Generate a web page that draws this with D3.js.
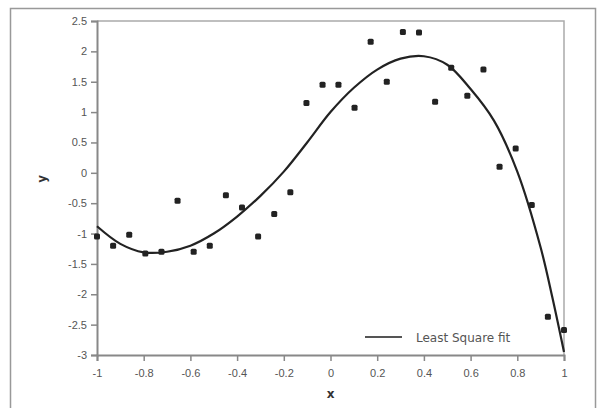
<!DOCTYPE html>
<html>
<head>
<meta charset="utf-8">
<script src="https://cdn.jsdelivr.net/npm/d3@7"></script>
<style>
  body { margin: 0; background: #fff; }
  svg { display: block; font-family: "DejaVu Sans", sans-serif; }
</style>
</head>
<body>
<div class="container"></div>
<script>
// observed samples
const sampleX = [-1, -0.931, -0.862, -0.793, -0.724, -0.655, -0.586, -0.517, -0.448, -0.379,
  -0.31, -0.241, -0.172, -0.103, -0.034, 0.034, 0.103, 0.172, 0.241, 0.31,
  0.379, 0.448, 0.517, 0.586, 0.655, 0.724, 0.793, 0.862, 0.931, 1];
const sampleY = [-1.05, -1.2, -1.02, -1.33, -1.3, -0.46, -1.3, -1.2, -0.37, -0.57,
  -1.05, -0.68, -0.32, 1.15, 1.45, 1.45, 1.07, 2.16, 1.5, 2.32,
  2.31, 1.17, 1.73, 1.27, 1.7, 0.1, 0.4, -0.53, -2.37, -2.59];

// least square fit curve
const fitX = [-1, -0.9, -0.8, -0.7, -0.6, -0.5, -0.4, -0.3, -0.2, -0.1, 0, 0.1, 0.2, 0.3, 0.4,
  0.5, 0.6, 0.7, 0.8, 0.9, 0.95, 1];
const fitY = [-0.88, -1.17, -1.31, -1.3, -1.2, -1.0, -0.72, -0.38, 0.02, 0.5, 1.0, 1.4, 1.7, 1.88, 1.92,
  1.78, 1.38, 0.86, 0.02, -1.23, -2.05, -2.95];

const xTicks = [-1, -0.8, -0.6, -0.4, -0.2, 0, 0.2, 0.4, 0.6, 0.8, 1];
const yTicks = [2.5, 2, 1.5, 1, 0.5, 0, -0.5, -1, -1.5, -2, -2.5, -3];

const width = 597;
const height = 408;
const marginTop = 21;
const marginRight = 33;
const marginBottom = 53;
const marginLeft = 97;

const x = d3.scaleLinear()
  .domain([-1, 1])
  .range([marginLeft, width - marginRight]);

const y = d3.scaleLinear()
  .domain([-3, 2.5])
  .range([height - marginBottom, marginTop]);

const svg = d3.select(".container")
  .append("svg")
  .attr("width", width)
  .attr("height", height);

// outer frame
svg.append("rect")
  .attr("x", 10.5).attr("y", 8.5)
  .attr("width", 585).attr("height", 405)
  .attr("fill", "none")
  .attr("stroke", "#999")
  .attr("stroke-width", 1.5);

// plot frame (top and right)
svg.append("path")
  .attr("d", `M${marginLeft},${marginTop}H${width - marginRight}V${height - marginBottom}`)
  .attr("fill", "none")
  .attr("stroke", "#aaa")
  .attr("stroke-width", 1.5);

const fmt = d => d3.format("")(d).replace("−", "-");

// x axis
const gx = svg.append("g")
  .attr("transform", `translate(0,${height - marginBottom})`)
  .call(d3.axisBottom(x).tickValues(xTicks).tickFormat(fmt).tickSize(6).tickPadding(8));

// y axis
const gy = svg.append("g")
  .attr("transform", `translate(${marginLeft},0)`)
  .call(d3.axisLeft(y).tickValues(yTicks).tickFormat(fmt).tickSize(6).tickPadding(4));

[gx, gy].forEach(g => {
  g.select(".domain").attr("stroke", "#888").attr("stroke-width", 2);
  g.selectAll(".tick line").attr("stroke", "#888").attr("stroke-width", 1.5);
  g.selectAll(".tick text").attr("fill", "#555").style("font-size", "11px");
});

// axis labels
svg.append("text")
  .attr("x", x(0)).attr("y", 398)
  .attr("text-anchor", "middle")
  .attr("fill", "#333")
  .style("font-size", "12px")
  .style("font-weight", "bold")
  .text("x");

svg.append("text")
  .attr("transform", `translate(46,${y(-0.1)}) rotate(-90)`)
  .attr("text-anchor", "middle")
  .attr("fill", "#333")
  .style("font-size", "12px")
  .style("font-weight", "bold")
  .text("y");

// fit line
const line = d3.line()
  .x((d, i) => x(fitX[i]))
  .y(d => y(d))
  .curve(d3.curveCatmullRom);

svg.append("path")
  .datum(fitY)
  .attr("d", line)
  .attr("fill", "none")
  .attr("stroke", "#222")
  .attr("stroke-width", 2.2);

// sample points
svg.selectAll(".pt")
  .data(sampleY)
  .enter()
  .append("rect")
  .attr("class", "pt")
  .attr("x", (d, i) => x(sampleX[i]) - 3)
  .attr("y", d => y(d) - 3)
  .attr("width", 6)
  .attr("height", 6)
  .attr("rx", 1.5)
  .attr("fill", "#222");

// legend
svg.append("line")
  .attr("x1", 365).attr("x2", 402)
  .attr("y1", 337).attr("y2", 337)
  .attr("stroke", "#555")
  .attr("stroke-width", 2);

svg.append("text")
  .attr("x", 416).attr("y", 342)
  .attr("fill", "#555")
  .style("font-size", "12px")
  .text("Least Square fit");
</script>
</body>
</html>
